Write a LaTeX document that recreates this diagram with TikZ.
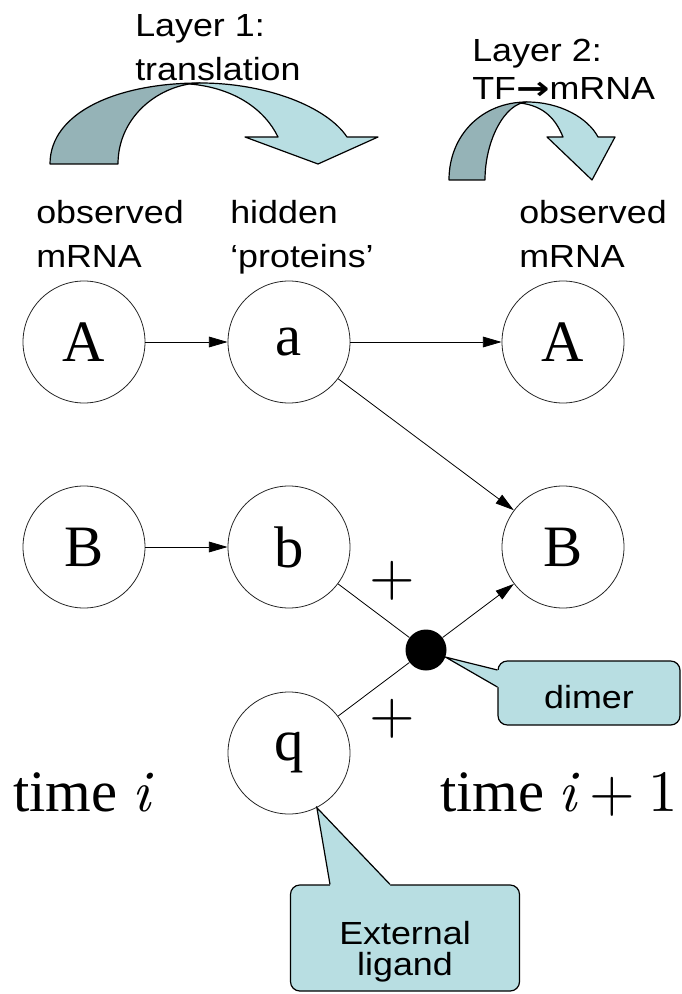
\documentclass[tikz,border=0pt]{standalone}
\usepackage{fontspec}
\setmainfont{Liberation Serif}
\newfontfamily\labelfont[FakeStretch=1.12]{Liberation Sans}
\newfontfamily\arrowfont[FakeStretch=1.25]{DejaVu Sans}
\newfontfamily\cmfont[ItalicFont=lmroman10-italic.otf]{lmroman10-regular.otf}
\usetikzlibrary{calc,arrows.meta}
\definecolor{bandback}{HTML}{95B3B7}
\definecolor{bandfront}{HTML}{B8DEE2}
\def\bigserif{\fontsize{44}{50}\selectfont}
\def\labelsize{\labelfont\fontsize{24}{33}\selectfont}
\def\opgap{\hspace{0.22em}}

\begin{document}
\begin{tikzpicture}[x=0.75pt, y=-0.75pt,
	var/.style={circle, draw=black!85, line width=0.6pt, minimum size=91.5pt, inner sep=0pt, font=\bigserif},
	link/.style={line width=0.6pt, -{Triangle[length=14pt,width=8pt]}},
	bond/.style={line width=0.6pt},
	caption/.style={font=\labelsize, align=left, anchor=north west, inner sep=0pt},
	bubble/.style={draw, line width=0.9pt, fill=bandfront, rounded corners=7pt, inner sep=0pt, font=\labelsize, align=center},
	band/.style={draw, line width=0.9pt, line join=round}]
			%%%%% START %%%%%
			\useasboundingbox (0,0) rectangle (681,994);
			
			% layer 1 arrow
			\draw[band, fill=bandback] (50,164) .. controls (50,112) and (118,83) .. (200,83) .. controls (160,84) and (118,116) .. (118,164) -- cycle;
			\draw[band, fill=bandfront] (200,83) .. controls (267,83) and (327,107) .. (347,137) -- (378,137) -- (318,164) -- (245,137) -- (278,137) .. controls (265,110) and (235,88) .. (190,84) -- cycle;
			
			% layer 2 arrow
			\draw[band, fill=bandback] (449,180) .. controls (449,135) and (482,102) .. (527,102) .. controls (505,103) and (485,140) .. (485,180) -- cycle;
			\draw[band, fill=bandfront] (527,102) .. controls (560,102) and (588,118) .. (598,137) -- (615,137) -- (592,180) -- (547,137) -- (563,137) .. controls (556,120) and (545,106) .. (520,103) -- cycle;
			
			\node[caption] (layer1) at (135,14) {Layer 1:\\translation};
			\node[caption, font=\labelfont\fontsize{24}{28.5}\selectfont] (layer2) at (472,39) {Layer 2:\\TF{\arrowfont\bfseries →}mRNA};
			
			\node[caption] (obsleft) at (36,200) {observed\\mRNA};
			\node[caption] (hidden) at (230,200) {hidden\\‘proteins’};
			\node[caption] (obsright) at (519,200) {observed\\mRNA};
			
			% variables
			\node[var] (Ai) at (84,342) {A};
			\node[var] (ai) at (289,342) {a};
			\node[var] (Aj) at (563,342) {A};
			\node[var] (Bi) at (84,547) {B};
			\node[var] (bi) at (289,547) {b};
			\node[var] (Bj) at (563,547) {B};
			\node[var] (q) at (289,753) {q};
			\node[circle, fill=black, minimum size=30.75pt, inner sep=0pt] (dot) at (426,650) {};
			
			\draw[link] (Ai) -- (ai);
			\draw[link] (ai) -- (Aj);
			\draw[link] (ai) -- (Bj);
			\draw[link] (Bi) -- (bi);
			\draw[bond] (bi) -- (dot);
			\draw[bond] (q) -- (dot);
			\draw[link] (dot) -- (Bj);
			
			\node[font=\bigserif\cmfont, inner sep=0pt] (plusb) at (392,581) {+};
			\node[font=\bigserif\cmfont, inner sep=0pt] (plusq) at (392,719) {+};
			
			\node[font=\bigserif, anchor=base west, inner sep=0pt] (timei) at (13,811) {time {\cmfont\itshape i}};
			\node[font=\bigserif, anchor=base east, inner sep=0pt] (timej) at (678,811) {time {\cmfont\itshape i\opgap\upshape+\opgap 1}};
			
			% callouts
			\node[bubble, minimum width=136.5pt, minimum height=48pt] (dimerbox) at (589,693) {\rule{0pt}{23pt}dimer};
			\fill[bandfront] ($(dimerbox.west)+(-1,-23)$) -- (dot.-20) -- ($(dimerbox.west)+(-1,-6)$) -- ($(dimerbox.west)+(3,-6)$) -- ($(dimerbox.west)+(3,-23)$) -- cycle;
			\draw[line width=0.9pt] ($(dimerbox.west)+(0,-23)$) -- (dot.-20) -- ($(dimerbox.west)+(0,-6)$);
			
			\node[bubble, minimum width=171.75pt, minimum height=79.5pt, font=\labelfont\fontsize{24}{23}\selectfont] (ligbox) at (405,938) {\rule{0pt}{38pt}External\\ligand};
			\fill[bandfront] ($(ligbox.north)+(-75,-1)$) -- (q.-63) -- ($(ligbox.north)+(-15,-1)$) -- ($(ligbox.north)+(-15,3)$) -- ($(ligbox.north)+(-75,3)$) -- cycle;
			\draw[line width=0.9pt] ($(ligbox.north)+(-75,0)$) -- (q.-63) -- ($(ligbox.north)+(-15,0)$);
			
			%%%%% END %%%%%
\end{tikzpicture}
\end{document}
